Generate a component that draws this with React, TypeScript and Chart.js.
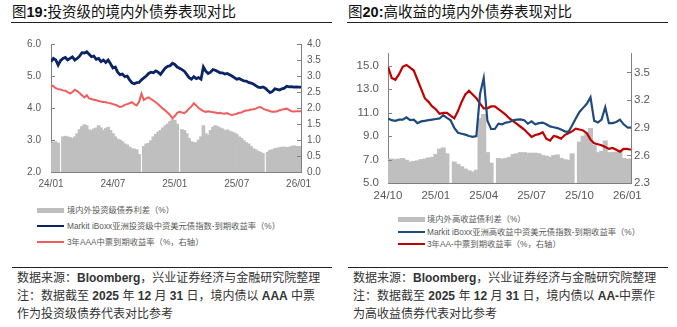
import React, { useEffect, useRef } from "react";
import { Chart, registerables } from "chart.js";

Chart.register(...registerables);

// ---------- Left chart (investment grade) ----------
const L_X_TICK_POS = [0, 26, 52, 78, 104];
const L_X_TICK_LABELS = ["24/01", "24/07", "25/01", "25/07", "26/01"];
const L_LEFT_TICKS = [2, 3, 4, 5, 6];
const L_RIGHT_TICKS = [0, 0.5, 1, 1.5, 2, 2.5, 3, 3.5, 4];

const L_MARKIT = [
  5.45, 5.55, 5.5, 5.34, 5.48, 5.55, 5.58, 5.5, 5.55, 5.6,
  5.5, 5.55, 5.62, 5.73, 5.72, 5.76, 5.68, 5.6, 5.62, 5.52,
  5.55, 5.45, 5.5, 5.42, 5.5, 5.38, 5.25, 5.28, 5.12, 5.04,
  5.06, 4.98, 5.0, 4.88, 4.79, 4.76, 4.79, 4.8, 4.88, 4.94,
  5.0, 5.08, 5.12, 5.1, 5.16, 5.12, 5.05, 5.15, 5.25, 5.3,
  5.32, 5.4, 5.36, 5.28, 5.24, 5.2, 5.15, 5.05, 4.95, 4.9,
  4.98, 4.92, 4.95, 4.9, 5.28, 5.15, 5.08, 5.12, 5.2, 5.18,
  5.14, 5.1, 5.1, 5.06, 5.08, 5.04, 5.0, 4.95, 4.9, 4.92,
  4.88, 4.85, 4.84, 4.8, 4.78, 4.75, 4.7, 4.65, 4.64, 4.66,
  4.62, 4.55, 4.48, 4.52, 4.6, 4.58, 4.56, 4.6, 4.62, 4.68,
  4.66, 4.67, 4.65, 4.66, 4.65, 4.65,
];
const L_AAA = [
  2.71, 2.68, 2.62, 2.59, 2.58, 2.55, 2.54, 2.5, 2.45, 2.5,
  2.57, 2.53, 2.47, 2.4, 2.33, 2.4, 2.3, 2.28, 2.26, 2.24,
  2.22, 2.2, 2.19, 2.18, 2.16, 2.15, 2.12, 2.1, 2.07, 2.03,
  2.05, 2.1, 2.12, 2.15, 2.18, 2.12, 2.08, 2.2, 2.45, 2.25,
  2.3, 2.33, 2.28, 2.23, 2.18, 2.12, 2.05, 1.98, 1.92, 1.85,
  1.78, 1.68, 1.75, 1.85, 1.88, 1.86, 1.84, 1.9, 1.98, 2.05,
  2.15, 2.08, 2.0, 1.95, 1.9, 1.88, 1.9, 1.88, 1.87, 1.86,
  1.84, 1.85, 1.83, 1.82, 1.84, 1.8, 1.78, 1.8, 1.82, 1.85,
  1.86, 1.9, 1.92, 1.93, 1.95, 1.96, 1.98, 2.02, 2.03, 1.98,
  1.95, 1.93, 1.9, 1.88, 1.88, 1.9, 1.93, 1.95, 1.97, 1.98,
  1.94, 1.9, 1.89, 1.9, 1.9, 1.9,
];
const L_SPREAD = [
  2.9, 2.94, 2.95, 2.9, null, 3.1, 3.12, 3.1, 3.08, 3.05,
  3.1, 3.2, 3.33, 3.42, 3.48, 3.45, 3.32, 3.3, 3.35, 3.38,
  3.45, 3.38, 3.3, 3.36, 3.4, 3.3, 3.2, 3.1, 3.03, 3.0,
  2.95, 2.88, 2.85, 2.78, 2.73, 2.72, 2.7, 2.55, null, 2.8,
  2.88, 2.9, 2.98, 3.1, 3.18, 3.25, 3.3, 3.38, 3.45, 3.5,
  3.58, 3.64, 3.62, 3.5, null, 3.33, 3.3, 3.2, 3.05, 2.95,
  2.92, 2.92, 3.0, 3.1, 3.45, 3.2, 3.15, 3.3, 3.4, 3.45,
  3.42, 3.38, 3.35, 3.3, 3.32, 3.28, 3.25, 3.22, 3.18, 3.1,
  3.05, 2.98, 2.92, 2.88, 2.8, 2.73, 2.7, 2.65, 2.62, 2.58,
  null, 2.62, 2.68, 2.7, 2.73, 2.75, 2.76, 2.78, 2.78, 2.77,
  2.78, 2.8, 2.82, 2.81, 2.8, 2.8,
];

// ---------- Right chart (high yield) ----------
const R_X_TICK_POS = [0, 13, 26, 39, 52, 65];
const R_X_TICK_LABELS = ["24/10", "25/01", "25/04", "25/07", "25/10", "26/01"];
const R_LEFT_TICKS = [5, 7, 9, 11, 13, 15];
const R_RIGHT_TICKS = [2.3, 2.6, 2.9, 3.2, 3.5];

const R_MARKIT = [
  10.5, 10.35, 10.3, 10.4, 10.4, 10.6, 10.35, 10.4, 10.1, 10.25,
  10.3, 10.35, 10.4, 10.45, 10.5, 10.78, 10.55, 10.35, 9.7, 9.28,
  9.2, 9.12, 9.0, 8.94, 9.0, 12.6, 13.95, 10.3, 9.6, 9.6,
  10.05, 10.0, 10.15, 10.2, 10.35, 10.4, 10.42, 10.35, 10.05, 10.25,
  10.0, 10.1, 10.15, 10.0, 9.82, 9.75, 9.68, 9.55, 9.4, 9.35,
  9.9, 10.5, 11.05, 11.4, 11.75, 12.3, 10.3, 10.15, 10.4, 11.45,
  10.1, 10.1, 10.2, 10.4, 10.0, 9.75, 9.73,
];
const R_AA = [
  3.56, 3.44, 3.42, 3.48, 3.56, 3.58, 3.55, 3.52, 3.42, 3.32,
  3.22, 3.18, 3.13, 3.1, 3.05, 3.06, 3.06, 3.03, 3.0, 3.08,
  3.18, 3.26, 3.3, 3.26, 3.22, 3.16, 3.11, 3.11, 3.13, 3.13,
  3.1, 3.07, 3.04, 3.0, 2.97, 2.94, 2.91, 2.88, 2.84, 2.8,
  2.82, 2.83, 2.85, 2.78, 2.76, 2.81, 2.8, 2.78, 2.82, 2.84,
  2.86, 2.89, 2.88, 2.87, 2.84, 2.77, 2.73, 2.72, 2.71, 2.69,
  2.67, 2.68, 2.66, 2.64, 2.67, 2.67, 2.66,
];
const R_SPREAD = [
  7.05, 7.05, 7.0, 7.05, 7.1, 6.95, 6.8, 6.85, 6.9, 7.0,
  7.05, 7.15, 7.2, 7.45, 7.9, 8.0, 7.5, null, 6.8, 6.6,
  6.4, 6.2, 6.05, 5.95, 6.1, 10.5, 10.85, 7.6, 6.7, null,
  7.1, 7.05, 7.1, 7.2, 7.45, 7.5, 7.6, 7.6, 7.55, 7.55,
  7.55, 7.5, 7.35, 7.3, 7.2, 7.35, 7.4, 7.1, 7.0, 6.95,
  7.5, null, 8.5, 9.0, 9.3, 9.65, 8.2, 7.6, 7.7, 8.6,
  7.6, 7.6, 7.65, 7.75, 7.1, 7.05, 7.05,
];

const LATIN = '"Liberation Sans", Arial, "Noto Sans CJK SC", sans-serif';
const TEXT_FONT = '"Liberation Sans", "Noto Sans CJK SC", sans-serif';

const innerTicks = {
  id: "innerTicks",
  afterDatasetsDraw(chart: any) {
    const { ctx, chartArea } = chart;
    ctx.save();
    ctx.strokeStyle = "#808080";
    ctx.lineWidth = 1;
    ["y", "y1"].forEach((id) => {
      const s = chart.scales[id];
      if (!s) return;
      s.ticks.forEach((t: any) => {
        const py = Math.round(s.getPixelForValue(t.value)) + 0.5;
        ctx.beginPath();
        if (id === "y") {
          ctx.moveTo(chartArea.left, py);
          ctx.lineTo(chartArea.left + 4, py);
        } else {
          ctx.moveTo(chartArea.right - 4, py);
          ctx.lineTo(chartArea.right, py);
        }
        ctx.stroke();
      });
    });
    ctx.restore();
  },
};

type Cfg = {
  markit: number[];
  domestic: number[];
  spread: (number | null)[];
  xPos: number[];
  xLabels: string[];
  xMax: number;
  leftTicks: number[];
  rightTicks: number[];
  leftMin: number;
  leftMax: number;
  rightMin: number;
  rightMax: number;
  blue: string;
  red: string;
  blueWidth: number;
  redWidth: number;
  fontSize: number;
  leftW: number;
  rightW: number;
  xH: number;
  padTop: number;
  leftPad: number;
  rightPad: number;
  xPad: number;
  barW: number;
};

function makeConfig(c: Cfg): any {
  const font = { family: LATIN, size: c.fontSize };
  const grid = { display: true, drawOnChartArea: false, drawTicks: false };
  return {
    type: "bar",
    data: {
      datasets: [
        {
          type: "line",
          label: "markit",
          data: c.markit.map((v, i) => ({ x: i, y: v })),
          borderColor: c.blue,
          borderWidth: c.blueWidth,
          pointRadius: 0,
          tension: 0,
          yAxisID: "y",
          order: 1,
        },
        {
          type: "line",
          label: "domestic",
          data: c.domestic.map((v, i) => ({ x: i, y: v })),
          borderColor: c.red,
          borderWidth: c.redWidth,
          pointRadius: 0,
          tension: 0,
          yAxisID: "y1",
          order: 2,
        },
        {
          type: "bar",
          label: "spread",
          data: c.spread.map((v, i) => ({ x: i, y: v })),
          backgroundColor: "#bfbfbf",
          borderWidth: 0,
          barThickness: c.barW,
          yAxisID: "y",
          order: 3,
        },
      ],
    },
    options: {
      responsive: false,
      animation: false,
      devicePixelRatio: 1,
      events: [],
      layout: { padding: { top: c.padTop, left: 0, right: 0, bottom: 0 } },
      plugins: { legend: { display: false }, tooltip: { enabled: false } },
      scales: {
        x: {
          type: "linear",
          min: 0,
          max: c.xMax,
          offset: false,
          afterBuildTicks: (s: any) => {
            s.ticks = c.xPos.map((v) => ({ value: v }));
          },
          afterFit: (s: any) => {
            s.height = c.xH;
          },
          ticks: {
            autoSkip: false,
            maxRotation: 0,
            padding: c.xPad,
            color: "#595959",
            font,
            callback: (_v: any, i: number) => c.xLabels[i],
          },
          grid,
          border: { display: true, color: "#7f7f7f", width: 1 },
        },
        y: {
          type: "linear",
          position: "left",
          min: c.leftMin,
          max: c.leftMax,
          afterBuildTicks: (s: any) => {
            s.ticks = c.leftTicks.map((v) => ({ value: v }));
          },
          afterFit: (s: any) => {
            s.width = c.leftW;
          },
          ticks: {
            padding: c.leftPad,
            color: "#595959",
            font,
            callback: (v: any) => Number(v).toFixed(1),
          },
          grid,
          border: { display: true, color: "#808080", width: 1 },
        },
        y1: {
          type: "linear",
          position: "right",
          min: c.rightMin,
          max: c.rightMax,
          afterBuildTicks: (s: any) => {
            s.ticks = c.rightTicks.map((v) => ({ value: v }));
          },
          afterFit: (s: any) => {
            s.width = c.rightW;
          },
          ticks: {
            padding: c.rightPad,
            color: "#595959",
            font,
            callback: (v: any) => Number(v).toFixed(1),
          },
          grid,
          border: { display: true, color: "#808080", width: 1 },
        },
      },
    },
    plugins: [innerTicks],
  };
}

function ChartCanvas(props: { cfg: Cfg; left: number; top: number; width: number; height: number }) {
  const ref = useRef<HTMLCanvasElement | null>(null);
  useEffect(() => {
    if (!ref.current) return;
    const chart = new Chart(ref.current, makeConfig(props.cfg));
    return () => chart.destroy();
  }, []);
  return (
    <canvas
      ref={ref}
      width={props.width}
      height={props.height}
      style={{ position: "absolute", left: props.left, top: props.top, width: props.width, height: props.height }}
    />
  );
}

function LegendRow(props: { left: number; cy: number; kind: "bar" | "line"; color: string; text: string; gap: number }) {
  return (
    <div
      style={{
        position: "absolute",
        left: props.left,
        top: props.cy - 6,
        height: 12,
        display: "flex",
        alignItems: "center",
        whiteSpace: "nowrap",
      }}
    >
      <div style={{ width: 27, height: props.kind === "bar" ? 5 : 2, background: props.color }} />
      <span style={{ marginLeft: props.gap, fontSize: 8.3, lineHeight: "12px", color: "#595959", fontFamily: TEXT_FONT }}>
        {props.text}
      </span>
    </div>
  );
}

const B = (p: { children: any }) => (
  <span style={{ fontFamily: LATIN, fontWeight: "bold" }}>{p.children}</span>
);

function Title(props: { left: number; num: string; text: string }) {
  return (
    <>
      <div
        style={{
          position: "absolute",
          left: props.left,
          top: 3,
          fontSize: 14.5,
          lineHeight: "19px",
          whiteSpace: "nowrap",
          color: "#111",
          fontFamily: TEXT_FONT,
        }}
      >
        图<B>{props.num}</B>
        {props.text}
      </div>
      <div style={{ position: "absolute", left: props.left - 1, top: 22, width: 321, height: 1, background: "#222" }} />
    </>
  );
}

function Footer(props: { left: number; lines: any[] }) {
  return (
    <>
      <div style={{ position: "absolute", left: props.left - 5, top: 267, width: 320, height: 1, background: "#222" }} />
      {props.lines.map((ln, i) => (
        <div
          key={i}
          style={{
            position: "absolute",
            left: props.left,
            top: 269 + i * 18,
            fontSize: 12,
            lineHeight: "18px",
            whiteSpace: "nowrap",
            color: "#333",
            fontFamily: TEXT_FONT,
          }}
        >
          {ln}
        </div>
      ))}
    </>
  );
}

const leftCfg: Cfg = {
  markit: L_MARKIT,
  domestic: L_AAA,
  spread: L_SPREAD,
  xPos: L_X_TICK_POS,
  xLabels: L_X_TICK_LABELS,
  xMax: 105,
  leftTicks: L_LEFT_TICKS,
  rightTicks: L_RIGHT_TICKS,
  leftMin: 2,
  leftMax: 6,
  rightMin: 0,
  rightMax: 4,
  blue: "#0b2466",
  red: "#f25c5c",
  blueWidth: 2.8,
  redWidth: 2,
  fontSize: 10,
  leftW: 51,
  rightW: 37,
  xH: 18,
  padTop: 12,
  leftPad: 10,
  rightPad: 6,
  xPad: 6,
  barW: 3,
};

const rightCfg: Cfg = {
  markit: R_MARKIT,
  domestic: R_AA,
  spread: R_SPREAD,
  xPos: R_X_TICK_POS,
  xLabels: R_X_TICK_LABELS,
  xMax: 66,
  leftTicks: R_LEFT_TICKS,
  rightTicks: R_RIGHT_TICKS,
  leftMin: 5,
  leftMax: 16,
  rightMin: 2.3,
  rightMax: 3.7,
  blue: "#1f4a7d",
  red: "#c00000",
  blueWidth: 2.2,
  redWidth: 2.2,
  fontSize: 11.5,
  leftW: 48,
  rightW: 46,
  xH: 25,
  padTop: 12,
  leftPad: 9,
  rightPad: 3,
  xPad: 6,
  barW: 4.4,
};

export default function App() {
  return (
    <div
      style={{
        position: "fixed",
        left: 0,
        top: 0,
        width: 677,
        height: 327,
        background: "#fff",
        overflow: "hidden",
      }}
    >
      <Title left={12} num="19:" text="投资级的境内外债券表现对比" />
      <Title left={348} num="20:" text="高收益的境内外债券表现对比" />

      <ChartCanvas cfg={leftCfg} left={0} top={28} width={338} height={162} />
      <ChartCanvas cfg={rightCfg} left={340} top={38} width={337} height={170} />

      <LegendRow left={37} cy={210} kind="bar" color="#bfbfbf" gap={3} text="境内外投资级债券利差（%）" />
      <LegendRow left={37} cy={225.5} kind="line" color="#0b2466" gap={3} text="Markit iBoxx亚洲投资级中资美元债指数-到期收益率（%）" />
      <LegendRow left={37} cy={241.5} kind="line" color="#f25c5c" gap={3} text="3年AAA中票到期收益率（%，右轴）" />

      <LegendRow left={398} cy={219} kind="bar" color="#bfbfbf" gap={2} text="境内外高收益债利差（%）" />
      <LegendRow left={398} cy={232} kind="line" color="#1f4a7d" gap={2} text="Markit iBoxx亚洲高收益中资美元债指数-到期收益率（%）" />
      <LegendRow left={398} cy={243.5} kind="line" color="#c00000" gap={2} text="3年AA-中票到期收益率（%，右轴）" />

      <Footer
        left={17}
        lines={[
          <>数据来源：<B>Bloomberg</B>，兴业证券经济与金融研究院整理</>,
          <>注：数据截至 <B>2025</B> 年 <B>12</B> 月 <B>31</B> 日，境内债以 <B>AAA</B> 中票</>,
          <>作为投资级债券代表对比参考</>,
        ]}
      />
      <Footer
        left={353}
        lines={[
          <>数据来源：<B>Bloomberg</B>，兴业证券经济与金融研究院整理</>,
          <>注：数据截至 <B>2025</B> 年 <B>12</B> 月 <B>31</B> 日，境内债以 <B>AA-</B>中票作</>,
          <>为高收益债券代表对比参考</>,
        ]}
      />
    </div>
  );
}
